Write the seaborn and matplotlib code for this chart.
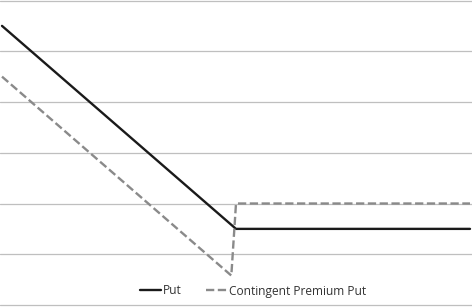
import matplotlib
matplotlib.use("Agg")
import matplotlib.pyplot as plt
import seaborn as sns
import pandas as pd

# Data (underlying price vs payoff)
price = [0, 50, 100]
put_payoff = [55, 15, 15]
cpp_price = [0, 49, 50, 100]
cpp_payoff = [45, 5.8, 20, 20]
series_names = ["Put", "Contingent Premium Put"]

df = pd.concat([
    pd.DataFrame({"x": price, "y": put_payoff, "series": series_names[0]}),
    pd.DataFrame({"x": cpp_price, "y": cpp_payoff, "series": series_names[1]}),
], ignore_index=True)

sns.set_theme(style="white")
plt.rcParams['font.family'] = ['Open Sans', 'DejaVu Sans']

W, H = 472, 307
fig = plt.figure(figsize=(W / 100, H / 100), dpi=100)
ax = fig.add_axes([0, 0, 1, 1])

sns.lineplot(data=df, x="x", y="y", hue="series", style="series",
             palette={series_names[0]: "#1a1a1a", series_names[1]: "#8a8a8a"},
             dashes={series_names[0]: "", series_names[1]: (3.5, 1.5)},
             linewidth=1.7, sort=False, estimator=None, ax=ax, legend=False, zorder=3)

ax.set_xlim(-0.427, 100.427)
ax.set_ylim(-0.394, 60.1)
ax.set_yticks(range(0, 70, 10))
ax.yaxis.grid(True, color="#bfbfbf", linewidth=0.9)
ax.xaxis.grid(False)
ax.set_xticks([])
ax.tick_params(left=False, bottom=False, labelleft=False, labelbottom=False)
for s in ax.spines.values():
    s.set_visible(False)
ax.set_xlabel("")
ax.set_ylabel("")

from matplotlib.lines import Line2D
handles = [
    Line2D([], [], color="#1a1a1a", linewidth=1.7),
    Line2D([], [], color="#8a8a8a", linewidth=1.7, dashes=(3.5, 1.5)),
]
leg = fig.legend(handles, series_names, loc="center",
                 bbox_to_anchor=(253 / W, 1 - 291 / H), ncol=2, frameon=True,
                 fontsize=8.6, handlelength=1.8, handletextpad=0.15,
                 columnspacing=2.0, borderpad=0.2)
leg.get_frame().set_facecolor("white")
leg.get_frame().set_edgecolor("none")
leg.get_frame().set_alpha(1)
for t in leg.get_texts():
    t.set_color("#333333")

fig.savefig("out.png", dpi=100)
